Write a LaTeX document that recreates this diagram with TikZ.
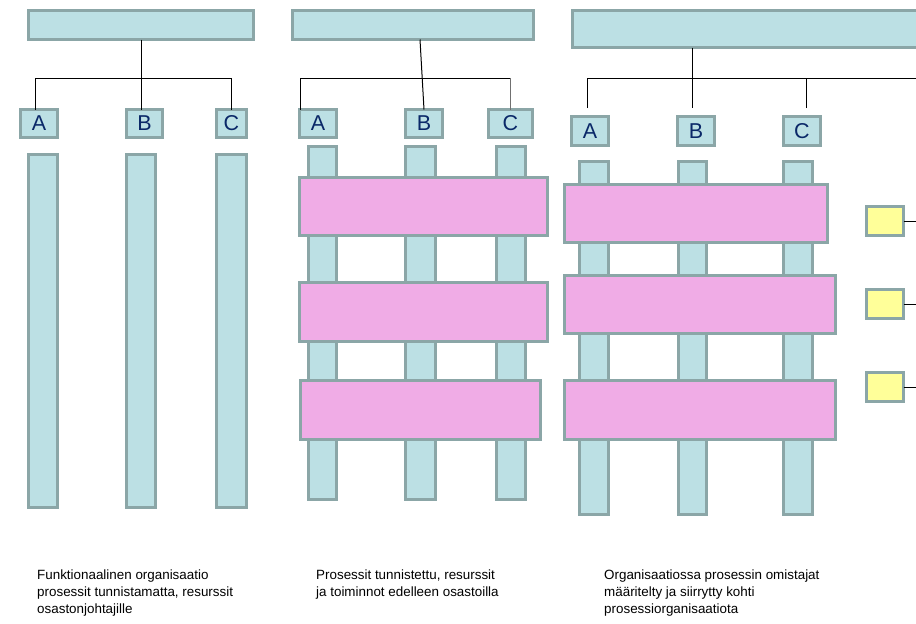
\documentclass[tikz,border=0pt]{standalone}
\usepackage{fontspec}
\setmainfont{Liberation Sans}
\definecolor{edge}{HTML}{8BA6A7}
\definecolor{lblue}{HTML}{BCE0E4}
\definecolor{procpink}{HTML}{F0ACE6}
\definecolor{roleyellow}{HTML}{FFFF99}
\definecolor{navy}{HTML}{0A2868}
\definecolor{darkline}{HTML}{707070}
% box given by its outer edges: style, name, left, top, right, bottom, text
\newcommand\blk[7]{\node[#1, minimum width={(#5-#3-3)*1pt}, minimum height={(#6-#4-3)*1pt}] (#2) at ({(#3+#5)/2},{(#4+#6)/2}) {#7};}
\begin{document}
\begin{tikzpicture}[x=1pt,y=-1pt,
  box/.style={rectangle, draw=edge, line width=3pt, inner sep=0pt, outer sep=0pt},
  col/.style={box, fill=lblue},
  hdr/.style={box, fill=lblue},
  lab/.style={box, fill=lblue, text=navy, font=\fontsize{21.5}{24}\selectfont},
  proc/.style={box, fill=procpink},
  role/.style={box, fill=roleyellow},
  conn/.style={draw=black, line width=1pt},
  caption/.style={anchor=north west, inner sep=0pt, align=left, font=\fontsize{13.4}{16.9}\selectfont}]
\clip (0,0) rectangle (916,624);
\fill[white] (0,0) rectangle (916,624);

% ---- functional organisation
\blk{hdr}{T1}{27}{9}{255}{41}{}
\blk{lab}{A1}{19}{108}{59}{139}{A}
\blk{lab}{B1}{125}{108}{164}{139}{B}
\blk{lab}{C1}{215}{108}{248}{139}{C}
\blk{col}{CA1}{27}{153}{59}{509}{}
\blk{col}{CB1}{125}{153}{157}{509}{}
\blk{col}{CC1}{215}{153}{248}{509}{}
\coordinate (bus1) at (0,78);
\draw[conn] (T1.south) -- (T1.south |- B1.north);
\draw[conn] ([xshift=-4pt]A1.north) |- (C1.north |- bus1) -- (C1.north);

% ---- processes identified
\blk{hdr}{T2}{291}{9}{535}{41}{}
\blk{lab}{A2}{298}{108}{338}{139}{A}
\blk{lab}{B2}{404}{108}{444}{139}{B}
\blk{lab}{C2}{487}{108}{534}{139}{C}
\blk{col}{CA2}{307}{145}{338}{501}{}
\blk{col}{CB2}{404}{145}{437}{501}{}
\blk{col}{CC2}{495}{145}{527}{501}{}
\blk{proc}{P21}{298}{176}{549}{237}{}
\blk{proc}{P22}{298}{281}{549}{343}{}
\blk{proc}{P23}{299}{379}{542}{441}{}
\coordinate (bus2) at (0,78);
\draw[conn] ([xshift=7pt]T2.south) -- (B2.north);
\draw[conn] ([xshift=1pt]A2.north west) |- (C2.north |- bus2);
\draw[conn, draw=darkline] (C2.north |- bus2) -- (C2.north);

% ---- process owners defined
\blk{hdr}{T3}{571}{9}{1100}{49}{}
\blk{lab}{A3}{570}{115}{610}{147}{A}
\blk{lab}{B3}{676}{115}{716}{147}{B}
\blk{lab}{C3}{782}{115}{822}{147}{C}
\blk{col}{CA3}{578}{160}{610}{516}{}
\blk{col}{CB3}{677}{160}{708}{516}{}
\blk{col}{CC3}{782}{160}{814}{516}{}
\blk{proc}{P31}{563}{183}{829}{244}{}
\blk{proc}{P32}{563}{274}{837}{335}{}
\blk{proc}{P33}{563}{379}{837}{441}{}
\blk{role}{Y1}{865}{205}{905}{237}{}
\blk{role}{Y2}{865}{288}{905}{320}{}
\blk{role}{Y3}{865}{371}{905}{403}{}
\coordinate (d3a) at (587,108);
\coordinate (d3b) at (692,108);
\coordinate (d3c) at (806,108);
\coordinate (bus3) at (940,78);
\coordinate (rim) at (940,0);
\draw[conn] (T3.south -| d3b) -- (d3b);
\draw[conn] (d3a) |- (bus3);
\draw[conn] (d3c) -- (d3c |- bus3);
\draw[conn] (Y1.east) -- (Y1.east -| rim);
\draw[conn] (Y2.east) -- (Y2.east -| rim);
\draw[conn] (Y3.east) -- (Y3.east -| rim);

% ---- captions
\node[caption] (L1) at (37,570) {Funktionaalinen organisaatio\\prosessit tunnistamatta, resurssit\\osastonjohtajille};
\node[caption] (L2) at (316,570) {Prosessit tunnistettu, resurssit\\ja toiminnot edelleen osastoilla};
\node[caption] (L3) at (604,570) {Organisaatiossa prosessin omistajat\\määritelty ja siirrytty kohti\\prosessiorganisaatiota};
\end{tikzpicture}
\end{document}
